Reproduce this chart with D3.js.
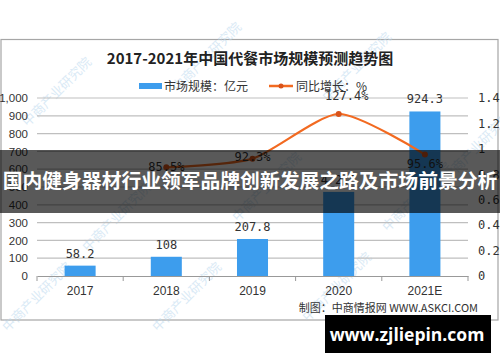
<!DOCTYPE html>
<html>
<head>
<meta charset="utf-8">
<script src="https://cdn.jsdelivr.net/npm/d3@7"></script>
<style>
  body { margin: 0; background: #fff; }
  svg { display: block; }
</style>
</head>
<body>
<svg id="chart"></svg>
<script>
const years = ["2017", "2018", "2019", "2020", "2021E"];
const marketSize = [58.2, 108, 207.8, 472.5, 924.3];
const growth = [null, 85.5, 92.3, 127.4, 95.6];
const leftTicks = [0, 100, 200, 300, 400, 500, 600, 700, 800, 900, 1000];
const rightTicks = [0, 0.2, 0.4, 0.6, 0.8, 1, 1.2, 1.4];

const W = 500, H = 362;
const margin = { top: 98, right: 32, bottom: 86, left: 37 };
const width = W - margin.left - margin.right;
const height = H - margin.top - margin.bottom;

const svg = d3.select("#chart").attr("width", W).attr("height", H);

// frame
svg.append("rect")
    .attr("x", 1).attr("y", 39.5).attr("width", 497).attr("height", 280.5)
    .attr("fill", "#fff").attr("stroke", "#a6a6a6").attr("stroke-width", 1.2);

// watermarks
const marks = [[60, 95], [210, 60], [360, 70], [120, 220], [270, 190], [420, 200], [40, 300], [190, 300], [340, 290], [480, 150]];
svg.append("g").selectAll("text")
    .data(marks)
    .join("text")
    .attr("transform", d => `translate(${d[0]},${d[1]}) rotate(-45)`)
    .attr("text-anchor", "middle")
    .attr("font-family", "Noto Sans CJK SC")
    .attr("font-size", 13)
    .attr("fill", "#bcd9ef")
    .attr("opacity", 0.55)
    .text("中商产业研究院");

// title
svg.append("text")
    .attr("x", 250).attr("y", 64)
    .attr("text-anchor", "middle")
    .attr("font-family", "Noto Sans CJK SC")
    .attr("font-weight", "bold")
    .attr("font-size", 15)
    .attr("fill", "#222")
    .text("2017-2021年中国代餐市场规模预测趋势图");

// legend
const legend = svg.append("g").attr("font-family", "Noto Sans CJK SC").attr("font-size", 12).attr("fill", "#333");
legend.append("rect").attr("x", 139).attr("y", 83).attr("width", 23).attr("height", 6).attr("fill", "#3d9ded");
legend.append("text").attr("x", 164).attr("y", 90.5).text("市场规模：亿元");
legend.append("line").attr("x1", 269).attr("x2", 293).attr("y1", 86).attr("y2", 86)
    .attr("stroke", "#f26a21").attr("stroke-width", 2.5);
legend.append("circle").attr("cx", 281).attr("cy", 86).attr("r", 2.5).attr("fill", "#d9531a");
legend.append("text").attr("x", 296).attr("y", 90.5).text("同比增长：%");

const g = svg.append("g").attr("transform", `translate(${margin.left},${margin.top})`);

const x = d3.scaleBand().domain(years).range([0, width]).paddingInner(0.64).paddingOuter(0.32);
const xBand = d3.scaleBand().domain(years).range([0, width]);
const yL = d3.scaleLinear().domain([0, 1000]).range([height, 0]);
const yR = d3.scaleLinear().domain([0, 1.4]).range([height, 0]);

// grid
g.append("g").selectAll("line")
    .data(leftTicks.slice(1))
    .join("line")
    .attr("x1", 0).attr("x2", width)
    .attr("y1", d => yL(d)).attr("y2", d => yL(d))
    .attr("stroke", "#bfbfbf").attr("stroke-width", 1.2);

// left axis
const axL = g.append("g")
    .call(d3.axisLeft(yL).tickValues(leftTicks).tickSize(0).tickPadding(9));
axL.select(".domain").remove();
axL.selectAll("text").attr("font-family", "Liberation Sans").attr("font-size", 11.5).attr("fill", "#333");

// right axis
const axR = g.append("g")
    .attr("transform", `translate(${width},0)`)
    .call(d3.axisRight(yR).tickValues(rightTicks).tickSize(0).tickPadding(10).tickFormat(d3.format("")));
axR.select(".domain").remove();
axR.selectAll("text").attr("font-family", "DejaVu Sans Mono").attr("font-size", 12).attr("fill", "#333");

// bars
g.append("g").selectAll("rect")
    .data(years)
    .join("rect")
    .attr("x", d => x(d))
    .attr("y", (d, i) => yL(marketSize[i]))
    .attr("width", x.bandwidth())
    .attr("height", (d, i) => height - yL(marketSize[i]))
    .attr("fill", "#3d9ded");

g.append("g").selectAll("text")
    .data(years)
    .join("text")
    .attr("x", d => x(d) + x.bandwidth() / 2)
    .attr("y", (d, i) => yL(marketSize[i]) - 8)
    .attr("text-anchor", "middle")
    .attr("font-family", "DejaVu Sans Mono")
    .attr("font-size", 12)
    .attr("fill", "#333")
    .text((d, i) => marketSize[i]);

// x axis
const axX = g.append("g")
    .attr("transform", `translate(0,${height})`)
    .call(d3.axisBottom(xBand).tickSize(0).tickPadding(10));
axX.select(".domain").attr("stroke", "#999").attr("stroke-width", 1.2);
axX.selectAll("text").attr("font-family", "Liberation Sans").attr("font-size", 12).attr("fill", "#333");
g.append("g").selectAll("line")
    .data(years.concat(["end"]))
    .join("line")
    .attr("x1", (d, i) => i * xBand.bandwidth()).attr("x2", (d, i) => i * xBand.bandwidth())
    .attr("y1", height).attr("y2", height + 5)
    .attr("stroke", "#999");

// growth line
const pts = years.map((d, i) => ({ year: d, v: growth[i] })).filter(d => d.v != null);
const line = d3.line()
    .x(d => xBand(d.year) + xBand.bandwidth() / 2)
    .y(d => yR(d.v / 100))
    .curve(d3.curveCardinal.tension(0.3));
g.append("path")
    .datum(pts)
    .attr("d", line)
    .attr("fill", "none")
    .attr("stroke", "#f26a21")
    .attr("stroke-width", 2.2);
g.append("g").selectAll("circle")
    .data(pts)
    .join("circle")
    .attr("cx", d => xBand(d.year) + xBand.bandwidth() / 2)
    .attr("cy", d => yR(d.v / 100))
    .attr("r", 3)
    .attr("fill", "#d9531a");

const labelOffset = { "2018": [0, 4], "2019": [0, 2], "2020": [8, -14], "2021E": [0, 14] };
g.append("g").selectAll("text")
    .data(pts)
    .join("text")
    .attr("x", d => xBand(d.year) + xBand.bandwidth() / 2 + labelOffset[d.year][0])
    .attr("y", d => yR(d.v / 100) + labelOffset[d.year][1])
    .attr("text-anchor", "middle")
    .attr("font-family", "DejaVu Sans Mono")
    .attr("font-size", 12)
    .attr("fill", "#333")
    .text(d => d.v + "%");

// source
svg.append("text")
    .attr("x", 478).attr("y", 312)
    .attr("text-anchor", "end")
    .attr("font-family", "Noto Sans CJK SC")
    .attr("font-size", 11)
    .attr("fill", "#333")
    .text("制图：中商情报网 WWW.ASKCI.COM");

// overlay banner
svg.append("rect").attr("x", 0).attr("y", 150).attr("width", W).attr("height", 63)
    .attr("fill", "rgba(0,0,0,0.65)");
svg.append("text")
    .attr("x", 250).attr("y", 188)
    .attr("text-anchor", "middle")
    .attr("font-family", "Noto Sans CJK SC")
    .attr("font-weight", "bold")
    .attr("font-size", 19.8)
    .attr("fill", "#fff")
    .text("国内健身器材行业领军品牌创新发展之路及市场前景分析");

svg.append("rect").attr("x", 325).attr("y", 315).attr("width", 166).attr("height", 38).attr("fill", "#000");
svg.append("text")
    .attr("x", 407).attr("y", 341)
    .attr("text-anchor", "middle")
    .attr("font-family", "Open Sans")
    .attr("font-weight", "bold")
    .attr("font-size", 17.5)
    .attr("fill", "#fff")
    .text("www.zjliepin.com");
</script>
</body>
</html>
